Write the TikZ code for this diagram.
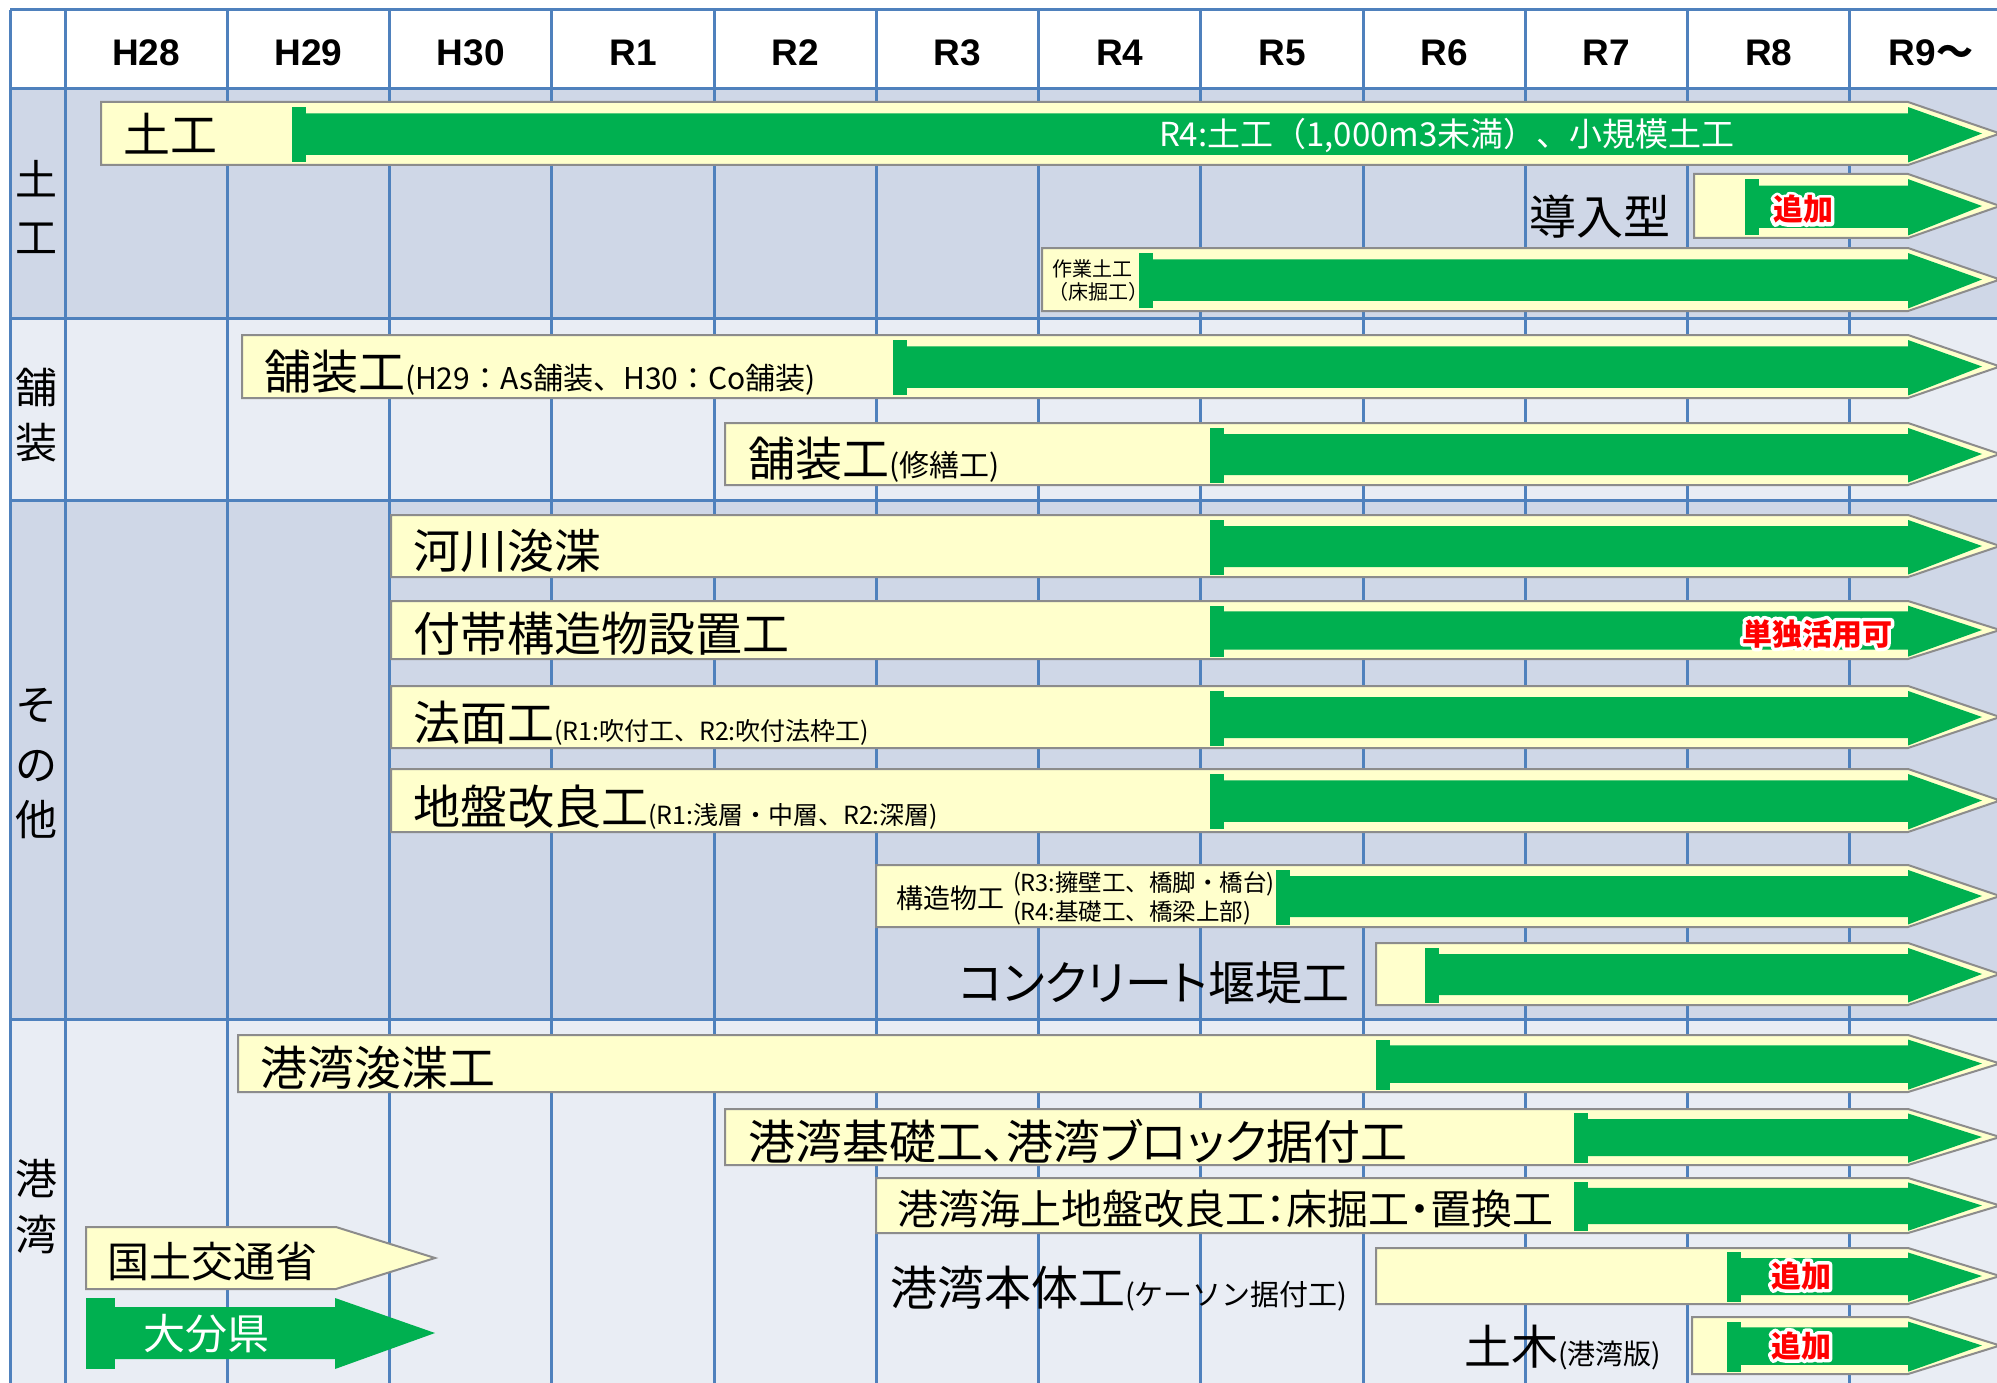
\documentclass[tikz,border=0pt]{standalone}
\usepackage{fontspec}
\newfontfamily\jp{Noto Sans CJK JP}
\newfontfamily\jpp{Noto Sans CJK JP}[RawFeature=+palt]
\newfontfamily\hdr{Liberation Sans}
\definecolor{gridblue}{HTML}{4F81BD}
\definecolor{bgdark}{HTML}{CFD7E7}
\definecolor{bglight}{HTML}{E9EDF4}
\definecolor{ylw}{HTML}{FFFFCC}
\definecolor{grnc}{HTML}{00B050}
\definecolor{bord}{HTML}{8C8C8C}
\definecolor{redt}{HTML}{FF0000}
\newcommand\fs[1]{\fontsize{#1}{#1}\selectfont}
\tikzset{
  ybox/.style={fill=ylw, draw=bord, line width=2pt, line join=miter},
  gline/.style={draw=gridblue, line width=3pt},
  lbl/.style={inner sep=0pt, outer sep=0pt, font=\jp},
  hdrs/.style={inner sep=0pt, outer sep=0pt, font=\hdr\bfseries\fs{37}},
}
\newcommand\ybar[3]{\draw[ybox] (#1,#2) -- (1908,#2) -- (2000,{(#2+#3)/2}) -- (1908,#3) -- (#1,#3) -- cycle;}
\newcommand\garrow[3]{%
  \pgfmathsetmacro\gaH{#3-#2}%
  \pgfmathsetmacro\gaCT{#2+0.08*\gaH}%
  \pgfmathsetmacro\gaCB{#3-0.04*\gaH}%
  \pgfmathsetmacro\gaBT{#2+0.18*\gaH}%
  \pgfmathsetmacro\gaBB{#3-0.16*\gaH}%
  \pgfmathsetmacro\gaM{(#2+#3)/2}%
  \fill[grnc] (#1,\gaCT) rectangle ({#1+14},\gaCB);
  \fill[grnc] (#1,\gaBT) -- (1908,\gaBT) -- (1908,\gaCT) -- (1982,\gaM) -- (1908,\gaCB) -- (1908,\gaBB) -- (#1,\gaBB) -- cycle;}
\newcommand\glowtxt[1]{\special{pdf:literal direct 1 Tr 7 w 1 1 1 RG 1 j}\rlap{#1}\special{pdf:literal direct 0 Tr}#1}
\newcommand\redlabel[4]{%
  \node[lbl, anchor=base, text=redt, font=\jp\bfseries\fs{30}] (#1) at (#2,#3) {\glowtxt{#4}};}
\begin{document}
\begin{tikzpicture}[x=1pt,y=-1pt]
\useasboundingbox (0,0) rectangle (1997,1383);
\clip (0,0) rectangle (1997,1383);
% backgrounds
\fill[white] (0,0) rectangle (1997,1383);
\fill[bgdark] (10,89) rectangle (1997,318);
\fill[bglight] (10,318) rectangle (1997,500);
\fill[bgdark] (10,500) rectangle (1997,1019);
\fill[bglight] (10,1019) rectangle (1997,1383);
% grid
\draw[gline] (10,10) -- (10,1383);
\foreach \k in {0,...,11}{\draw[gline] ({65+162.27*\k},10) -- ({65+162.27*\k},1383);}
\foreach \yy in {10,89,318,500,1019}{\draw[gline] (10,\yy) -- (1997,\yy);}
% headers
\foreach \lab [count=\i from 0] in {H28,H29,H30,R1,R2,R3,R4,R5,R6,R7,R8}{
  \node[hdrs, anchor=base] (h\i) at ({65+162.27*(\i+0.5)},66) {\lab};}
\node[hdrs, anchor=base] (h11) at (1931,66) {R9{\jp\bfseries ～}};
% category labels
\node[lbl, anchor=base, font=\jp\fs{42}] (c1a) at (37,196) {土};
\node[lbl, anchor=base, font=\jp\fs{42}] (c1b) at (37,253) {工};
\node[lbl, anchor=base, font=\jp\fs{42}] (c2a) at (37,403) {舗};
\node[lbl, anchor=base, font=\jp\fs{42}] (c2b) at (37,458) {装};
\node[lbl, anchor=base, font=\jp\fs{42}] (c3a) at (37,720) {そ};
\node[lbl, anchor=base, font=\jp\fs{42}] (c3b) at (37,780) {の};
\node[lbl, anchor=base, font=\jp\fs{42}] (c3c) at (37,835) {他};
\node[lbl, anchor=base, font=\jp\fs{42}] (c4a) at (37,1194) {港};
\node[lbl, anchor=base, font=\jp\fs{42}] (c4b) at (37,1250) {湾};
% bars
\ybar{101}{102}{165}\garrow{292}{102}{165}
\ybar{1694}{174}{238}\garrow{1745}{174}{238}
\ybar{1042}{248}{311}\garrow{1139}{248}{311}
\ybar{242}{335}{398}\garrow{893}{335}{398}
\ybar{725}{423}{485}\garrow{1210}{423}{485}
\ybar{391}{515}{577}\garrow{1210}{515}{577}
\ybar{391}{601}{659}\garrow{1210}{601}{659}
\ybar{391}{686}{748}\garrow{1210}{686}{748}
\ybar{391}{769}{832}\garrow{1210}{769}{832}
\ybar{876}{865}{927}\garrow{1276}{865}{927}
\ybar{1376}{943}{1005}\garrow{1425}{943}{1005}
\ybar{238}{1035}{1092}\garrow{1376}{1035}{1092}
\ybar{725}{1109}{1165}\garrow{1574}{1109}{1165}
\ybar{876}{1178}{1233}\garrow{1574}{1178}{1233}
\ybar{1376}{1248}{1304}\garrow{1727}{1248}{1304}
\ybar{1692}{1317}{1374}\garrow{1727}{1317}{1374}
% bar texts
\node[lbl, anchor=base west] (t1) at (123,153) {\fs{47}土工};
\node[lbl, anchor=base west, text=white] (t1w) at (1159,147) {\fs{33}R4:土工（1,000m3未満）、小規模土工};
\node[lbl, anchor=base east] (t2) at (1670,235) {\fs{47}導入型};
\redlabel{r2}{1803}{221}{追加}
\node[lbl, anchor=base west] (t3a) at (1052,276) {\fs{20}作業土工};
\node[lbl, anchor=base west] (t3b) at (1048,299) {\fs{20}（床掘工）};
\node[lbl, anchor=base west] (t4) at (264,389) {\fs{47}舗装工\fs{30}(H29：As舗装、H30：Co舗装)};
\node[lbl, anchor=base west] (t5) at (748,476) {\fs{47}舗装工\fs{30}(修繕工)};
\node[lbl, anchor=base west] (t6) at (413,568) {\fs{47}河川浚渫};
\node[lbl, anchor=base west] (t7) at (413,651) {\fs{47}付帯構造物設置工};
\redlabel{r7}{1817}{645}{単独活用可}
\node[lbl, anchor=base west] (t8) at (413,740) {\fs{47}法面工\fs{25}(R1:吹付工、R2:吹付法枠工)};
\node[lbl, anchor=base west] (t9) at (413,824) {\fs{47}地盤改良工\fs{25}(R1:浅層・中層、R2:深層)};
\node[lbl, anchor=base west] (t10) at (896,908) {\fs{27}構造物工};
\node[lbl, anchor=base west] (t10a) at (1013,891) {\fs{23.5}(R3:擁壁工、橋脚・橋台)};
\node[lbl, anchor=base west] (t10b) at (1013,920) {\fs{23.5}(R4:基礎工、橋梁上部)};
\node[lbl, anchor=base east] (t11) at (1349,1000) {\jpp\fs{47}コンクリート堰堤工};
\node[lbl, anchor=base west] (t12) at (260,1085) {\fs{47}港湾浚渫工};
\node[lbl, anchor=base west] (t13) at (748,1159) {\jpp\fs{47}港湾基礎工、港湾ブロック据付工};
\node[lbl, anchor=base west] (t14) at (897,1224) {\jpp\fs{41}港湾海上地盤改良工：床掘工・置換工};
\node[lbl, anchor=base west] (t15) at (890,1305) {\fs{47}港湾本体工\fs{29}(ケーソン据付工)};
\redlabel{r15}{1801}{1287}{追加}
\node[lbl, anchor=base west] (t16) at (1464,1364) {\fs{47}土木\fs{28}(港湾版)};
\redlabel{r16}{1801}{1357}{追加}
% legend
\draw[ybox] (86,1227) -- (336,1227) -- (435,1258) -- (336,1289) -- (86,1289) -- cycle;
\fill[grnc] (86,1298) rectangle (115,1369);
\fill[grnc] (86,1307) -- (335,1307) -- (335,1298) -- (435,1333) -- (335,1369) -- (335,1359) -- (86,1359) -- cycle;
\node[lbl, anchor=base west] (lg1) at (107,1277) {\fs{42}国土交通省};
\node[lbl, anchor=base west, text=white] (lg2) at (143,1349) {\fs{42}大分県};
\end{tikzpicture}
\end{document}
